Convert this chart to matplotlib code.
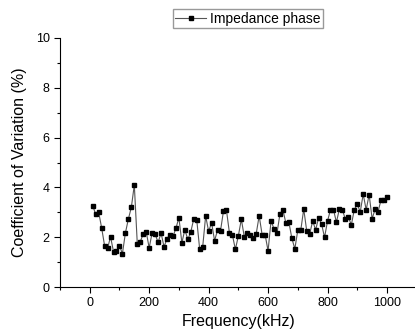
import numpy as np
import matplotlib
matplotlib.use("Agg")
import matplotlib.pyplot as plt
from matplotlib.ticker import MultipleLocator

plt.rcParams['font.family'] = ['Liberation Sans', 'DejaVu Sans']

# frequency points, 10 kHz steps
freq = np.arange(10, 1001, 10)

# coefficient of variation (%)
cv_low = [3.27, 2.92, 3.01, 2.38, 1.66, 1.55, 2.02, 1.42, 1.45, 1.66,
          1.34, 2.17, 2.73, 3.20, 4.10]
cv_mid = [1.74, 1.82, 2.13, 2.22, 1.57, 2.18, 2.13, 1.79, 2.17, 1.61,
          1.94, 2.10, 2.03, 2.36, 2.78, 1.78, 2.30, 1.91, 2.21, 2.74,
          2.70, 1.51, 1.61, 2.85, 2.24, 2.58, 1.86, 2.28, 2.26, 3.05,
          3.08, 2.17, 2.09, 1.51, 2.05]
cv_high = [2.72, 2.02, 2.17, 2.07, 1.98, 2.13, 2.86, 2.10, 2.10, 1.45,
           2.66, 2.33, 2.16, 2.94, 3.09, 2.56, 2.60, 1.96, 1.53, 2.28,
           2.28, 3.13, 2.25, 2.12, 2.66, 2.29, 2.78, 2.53, 1.99, 2.65,
           3.10, 3.10, 2.60, 3.14, 3.10, 2.72, 2.82, 2.49, 3.10, 3.33,
           3.01, 3.73, 3.10, 3.71, 2.74, 3.12, 3.03, 3.49, 3.49, 3.63]
cv = cv_low + cv_mid + cv_high

fig = plt.figure(figsize=(4.15, 3.33), dpi=100)
# axes runs a little past the right edge, like the cropped original
ax = fig.add_axes([60 / 415, 46 / 333, 356.7 / 415, 249 / 333])

ax.plot(freq, cv, color='#555555', lw=0.8, marker='s', markersize=3,
        markerfacecolor='black', markeredgecolor='black',
        label='Impedance phase')

ax.set_xlim(-100, 1100)
ax.set_ylim(0, 10)
ax.xaxis.set_major_locator(MultipleLocator(200))
ax.xaxis.set_minor_locator(MultipleLocator(100))
ax.yaxis.set_major_locator(MultipleLocator(2))
ax.yaxis.set_minor_locator(MultipleLocator(1))
ax.tick_params(which='major', direction='out', length=4, width=0.8, labelsize=9)
ax.tick_params(which='minor', direction='out', length=2, width=0.8)

for side in ['top', 'right']:
    ax.spines[side].set_visible(False)
for side in ['left', 'bottom']:
    ax.spines[side].set_linewidth(0.8)

ax.set_xlabel('Frequency(kHz)', fontsize=11.5, labelpad=3)
ax.set_ylabel('Coefficient of Variation (%)', fontsize=11.5, labelpad=6)

fig.legend(loc='center', bbox_to_anchor=(248 / 415, 1 - 18.5 / 333),
           fontsize=10, numpoints=1, frameon=True, fancybox=False,
           edgecolor='#999999', framealpha=1, handlelength=2.2,
           borderpad=0.15, handletextpad=0.3, borderaxespad=0)

fig.savefig('out.png', dpi=100)
